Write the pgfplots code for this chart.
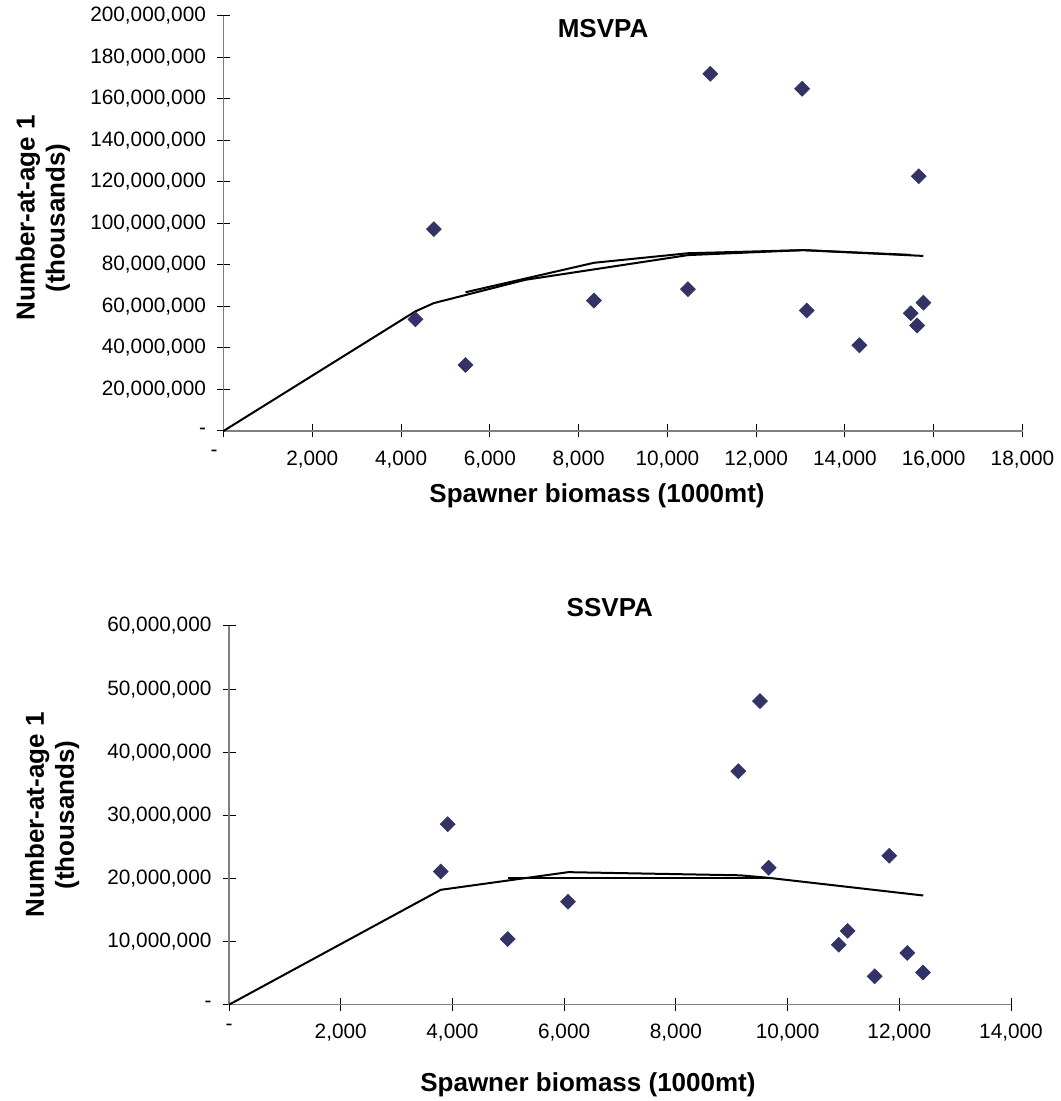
\documentclass[border=0pt]{standalone}
\usepackage{fontspec}
\setmainfont{Liberation Sans}
\usepackage{pgfplots}
\pgfplotsset{compat=1.18}
\definecolor{navy}{RGB}{51,51,102}
\pgfplotsset{
 srstyle/.style={
  scale only axis, axis lines*=left,
  axis line style={draw=gray, line width=0.8pt},
  tick style={black, line width=0.5pt},
  tick align=center, major tick length=6.5pt,
  scaled ticks=false,
  tick label style={font=\fontsize{10.4}{12}\selectfont},
  yticklabel style={xshift=-2pt},
  xticklabel style={yshift=-3pt},
  label style={font=\bfseries\fontsize{13}{15}\selectfont, align=center},
  clip=false,
 },
 pts/.style={only marks, mark=square*, mark size=2.6pt, mark options={rotate=45, fill=navy, draw=navy}},
 fit/.style={black, line width=1pt, no marks},
}
\begin{document}
\begin{tikzpicture}
\useasboundingbox (0,0) rectangle (530pt,550.5pt);
% ---------------- MSVPA ----------------
\begin{axis}[srstyle,
  at={(111.75pt,335pt)}, anchor=south west,
  width=399.5pt, height=207.65pt,
  xmin=0, xmax=18000, ymin=0, ymax=200000000,
  xtick={0,2000,4000,6000,8000,10000,12000,14000,16000,18000},
  xticklabels={{\makebox[0pt][r]{-\hspace{3pt}}},{2,000},{4,000},{6,000},{8,000},{10,000},{12,000},{14,000},{16,000},{18,000}},
  ytick={0,20000000,40000000,60000000,80000000,100000000,120000000,140000000,160000000,180000000,200000000},
  yticklabels={-,{20,000,000},{40,000,000},{60,000,000},{80,000,000},{100,000,000},{120,000,000},{140,000,000},{160,000,000},{180,000,000},{200,000,000}},
  title={MSVPA},
  every axis title/.style={at={(axis description cs:0.475,0.970)}, anchor=center, font=\bfseries\fontsize{13}{15}\selectfont},
  xlabel={Spawner biomass (1000mt)},
  xlabel style={at={(axis description cs:0.4675,-0.1565)}, anchor=center},
  ylabel={Number-at-age 1\\(thousands)},
  ylabel style={at={(axis description cs:-0.2259,0.513)}, anchor=center},
]
\addplot[pts] coordinates {
 (4323,53800000) (4740,97200000) (5452,31800000) (8346,62800000)
 (10463,68300000) (10966,172000000) (13035,164800000) (13139,58000000)
 (14325,41300000) (15663,122700000) (15483,56700000) (15625,50800000)
 (15768,61800000)
};
\addplot[fit] coordinates {
 (0,0) (4323,57600000) (4740,61600000) (6800,72800000) (10466,84700000)
 (13060,87100000) (15483,84800000)
};
\addplot[fit] coordinates {
 (5452,66800000) (8346,81000000) (10466,85600000) (13060,87100000) (15768,84300000)
};
\end{axis}
% ---------------- SSVPA ----------------
\begin{axis}[srstyle,
  at={(114.5pt,48.15pt)}, anchor=south west,
  width=391pt, height=189.35pt,
  xmin=0, xmax=14000, ymin=0, ymax=60000000,
  xtick={0,2000,4000,6000,8000,10000,12000,14000},
  xticklabels={-,{2,000},{4,000},{6,000},{8,000},{10,000},{12,000},{14,000}},
  ytick={0,10000000,20000000,30000000,40000000,50000000,60000000},
  yticklabels={-,{10,000,000},{20,000,000},{30,000,000},{40,000,000},{50,000,000},{60,000,000}},
  title={SSVPA},
  every axis title/.style={at={(axis description cs:0.487,1.0475)}, anchor=center, font=\bfseries\fontsize{13}{15}\selectfont},
  xlabel={Spawner biomass (1000mt)},
  xlabel style={at={(axis description cs:0.459,-0.2120)}, anchor=center},
  ylabel={Number-at-age 1\\(thousands)},
  ylabel style={at={(axis description cs:-0.2263,0.501)}, anchor=center},
]
\addplot[pts] coordinates {
 (3790,21100000) (3915,28600000) (4989,10400000) (6069,16300000)
 (9118,37000000) (9506,48100000) (9661,21700000) (10915,9500000)
 (11075,11700000) (11559,4500000) (11821,23600000) (12143,8200000)
 (12424,5100000)
};
\addplot[fit] coordinates {
 (0,0) (3790,18200000) (6074,21000000) (9148,20500000) (9661,20100000) (12429,17300000)
};
\addplot[fit] coordinates {
 (4989,20100000) (9661,20100000)
};
\end{axis}
\end{tikzpicture}
\end{document}
